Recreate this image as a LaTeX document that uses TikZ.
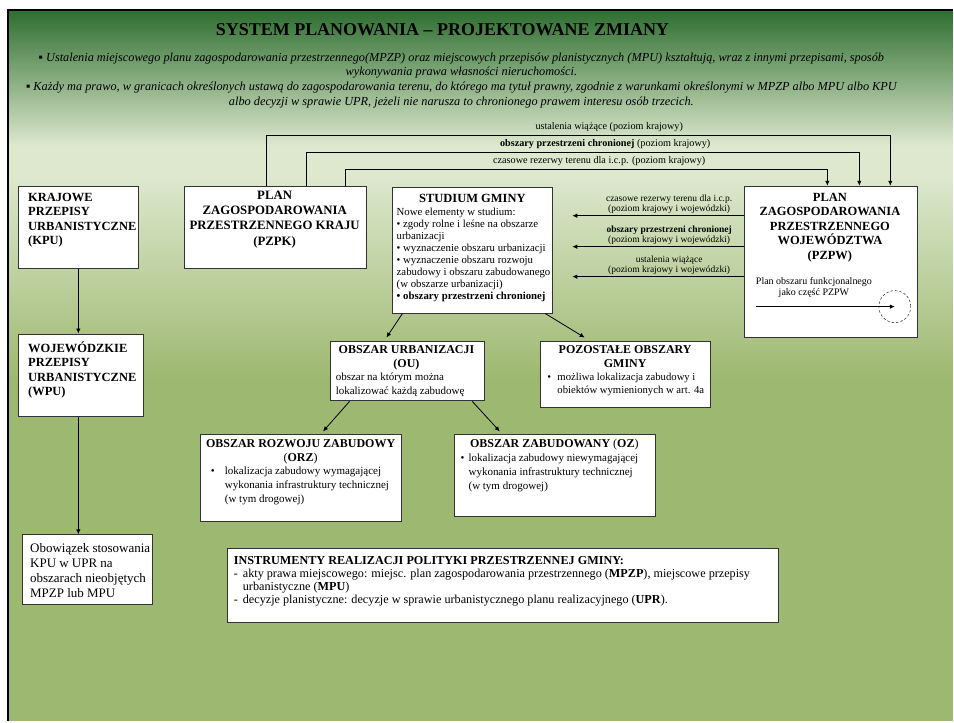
\documentclass[tikz,border=0pt]{standalone}
\usepackage{fontspec}
\setmainfont{Liberation Serif}
\usetikzlibrary{arrows.meta,calc,positioning}
\definecolor{greentop}{RGB}{46,110,48}
\definecolor{greenlight}{RGB}{221,232,206}
\definecolor{greenbase}{RGB}{157,184,112}

\begin{document}
\begin{tikzpicture}
  [x=1pt,y=-1pt,
   box/.style={draw=black!80,fill=white,line width=0.9pt,inner sep=0pt,anchor=north west},
   head/.style={font=\fontsize{12.5}{14.5}\selectfont\bfseries,align=center,inner sep=0pt,anchor=north},
   body/.style={font=\fontsize{11}{13}\selectfont,align=left,inner sep=0pt,anchor=north west},
   note/.style={font=\fontsize{10.2}{11}\selectfont,align=center,inner sep=0pt},
   link/.style={line width=0.8pt,-{Latex[length=5pt,width=4.5pt]}}]
  % background
  \fill[white] (0,0) rectangle (954,722);
  \shade[top color=greentop,bottom color=greenlight] (8,10) rectangle (954,145.5);
  \fill[greenlight] (8,145) rectangle (954,176.5);
  \shade[top color=greenlight,bottom color=greenbase] (8,176) rectangle (954,380.5);
  \fill[greenbase] (8,380) rectangle (954,722);
  \draw[line width=2.5pt] (8,722) -- (8,10) -- (954,10);
  % header
  \node[font=\fontsize{18}{20}\selectfont\bfseries] (title) at (443,30) {SYSTEM PLANOWANIA – PROJEKTOWANE ZMIANY};
  \node[font=\fontsize{12.3}{14.7}\selectfont\itshape,align=center] (intro) at (462,80.5)
    {▪ Ustalenia miejscowego planu zagospodarowania przestrzennego(MPZP) oraz miejscowych przepisów planistycznych (MPU) kształtują, wraz z innymi przepisami, sposób\\
     wykonywania prawa własności nieruchomości.\\
     ▪ Każdy ma prawo, w granicach określonych ustawą do zagospodarowania terenu, do którego ma tytuł prawny, zgodnie z warunkami określonymi w MPZP albo MPU albo KPU\\
     albo decyzji w sprawie UPR, jeżeli nie narusza to chronionego prawem interesu osób trzecich.};
  % boxes
  \node[box,minimum width=120,minimum height=82] (kpu) at (18,186) {};
  \node[box,minimum width=125,minimum height=83] (wpu) at (18,334) {};
  \node[box,minimum width=130,minimum height=70] (duty) at (22,535) {};
  \node[box,minimum width=182,minimum height=82] (pzpk) at (184,186) {};
  \node[box,minimum width=160,minimum height=126] (studium) at (393,187) {};
  \node[box,minimum width=173,minimum height=151] (pzpw) at (745,186) {};
  \node[box,minimum width=155,minimum height=60] (ou) at (330,341) {};
  \node[box,minimum width=170,minimum height=67] (rest) at (541,341) {};
  \node[box,minimum width=202,minimum height=87] (orz) at (200,435) {};
  \node[box,minimum width=201,minimum height=82] (oz) at (455,435) {};
  \node[box,minimum width=552,minimum height=74] (tools) at (227,549) {};
  % box texts
  \node[head,align=left,anchor=north west] (kputext) at (28,193) {KRAJOWE\\PRZEPISY\\URBANISTYCZNE\\(KPU)};
  \node[head,align=left,anchor=north west] (wputext) at (28,342) {WOJEWÓDZKIE\\PRZEPISY\\URBANISTYCZNE\\(WPU)};
  \node[body,font=\fontsize{13}{15}\selectfont] (dutytext) at (30,544) {Obowiązek stosowania\\KPU w UPR na\\obszarach nieobjętych\\MPZP lub MPU};
  \node[head,font=\fontsize{12.8}{15.3}\selectfont\bfseries] (pzpktext) at (275,191) {PLAN\\ZAGOSPODAROWANIA\\PRZESTRZENNEGO KRAJU\\(PZPK)};
  \node[head] (studtitle) at (473,194) {STUDIUM GMINY};
  \node[body,font=\fontsize{10.8}{12}\selectfont] (studtext) at (397,208)
    {Nowe elementy w studium:\\
     • zgody rolne i leśne na obszarze\\
     urbanizacji\\
     • wyznaczenie obszaru urbanizacji\\
     • wyznaczenie obszaru rozwoju\\
     zabudowy i obszaru zabudowanego\\
     (w obszarze urbanizacji)\\
     \textbf{• obszary przestrzeni chronionej}};
  \node[head] (pzpwtext) at (831,193) {PLAN\\ZAGOSPODAROWANIA\\PRZESTRZENNEGO\\WOJEWÓDZTWA\\(PZPW)};
  \node[note,font=\fontsize{10}{11}\selectfont,anchor=north] (pzpwnote) at (815,278) {Plan obszaru funkcjonalnego\\jako część PZPW};
  \node[head,font=\fontsize{12}{14}\selectfont\bfseries] (outitle) at (407,346) {OBSZAR URBANIZACJI\\(OU)};
  \node[body,font=\fontsize{11}{14}\selectfont] (outext) at (336,373) {obszar na którym można\\lokalizować każdą zabudowę};
  \node[head,font=\fontsize{12}{14}\selectfont\bfseries] (resttitle) at (626,346) {POZOSTAŁE OBSZARY\\GMINY};
  \node[body,font=\fontsize{10.7}{13}\selectfont] (resttext) at (548,373) {\makebox[10pt][l]{•}możliwa lokalizacja zabudowy i\\\hspace*{10pt}obiektów wymienionych w art. 4a};
  \node[head,font=\fontsize{12}{13.5}\selectfont\bfseries] (orztitle) at (301,440) {OBSZAR ROZWOJU ZABUDOWY\\\textmd{(}ORZ\textmd{)}};
  \node[body,font=\fontsize{11}{14}\selectfont] (orztext) at (211,467) {\makebox[14pt][l]{•}lokalizacja zabudowy wymagającej\\\hspace*{14pt}wykonania infrastruktury technicznej\\\hspace*{14pt}(w tym drogowej)};
  \node[head,font=\fontsize{12}{13.5}\selectfont\bfseries] (oztitle) at (555,440) {OBSZAR ZABUDOWANY \textmd{(}OZ\textmd{)}};
  \node[body,font=\fontsize{11}{14}\selectfont] (oztext) at (461,454) {\makebox[8pt][l]{•}lokalizacja zabudowy niewymagającej\\\hspace*{8pt}wykonania infrastruktury technicznej\\\hspace*{8pt}(w tym drogowej)};
  \node[body,font=\fontsize{12.2}{12.9}\selectfont] (toolstext) at (234,557)
    {\textbf{INSTRUMENTY REALIZACJI POLITYKI PRZESTRZENNEJ GMINY:}\\
     \makebox[9pt][l]{-}akty prawa miejscowego: miejsc. plan zagospodarowania przestrzennego (\textbf{MPZP}), miejscowe przepisy\\
     \hspace*{9pt}urbanistyczne (\textbf{MPU})\\
     \makebox[9pt][l]{-}decyzje planistyczne: decyzje w sprawie urbanistycznego planu realizacyjnego (\textbf{UPR}).};
  % national level links into the voivodeship plan
  \foreach \k/\w/\dy in {-9/59.5/-50,31/28.5/-33,70/-3.5/-16}
    \draw[link] ([xshift=\k pt]pzpk.north) -- ++(0,\dy) -| ([xshift=\w pt]pzpw.north);
  \node[note] (lab1) at (610,127) {ustalenia wiążące (poziom krajowy)};
  \node[note] (lab2) at (606,144) {\textbf{obszary przestrzeni chronionej} (poziom krajowy)};
  \node[note] (lab3) at (600,161) {czasowe rezerwy terenu dla i.c.p. (poziom krajowy)};
  % voivodeship plan into the studium
  \foreach \i/\y in {1/216,2/247,3/277}{
    \coordinate (in\i) at (573,\y);
    \draw[link] (pzpw.west |- in\i) -- (in\i);
  }
  \node[note,font=\fontsize{9.5}{10}\selectfont,anchor=south] (side1) at (670,214) {czasowe rezerwy terenu dla i.c.p.\\(poziom krajowy i wojewódzki)};
  \node[note,font=\fontsize{9.5}{10}\selectfont,anchor=south] (side2) at (670,245) {\textbf{obszary przestrzeni chronionej}\\(poziom krajowy i wojewódzki)};
  \node[note,font=\fontsize{9.5}{10}\selectfont,anchor=south] (side3) at (670,275) {ustalenia wiążące\\(poziom krajowy i wojewódzki)};
  % functional area
  \coordinate (fa) at (757,307);
  \node[draw,dashed,circle,minimum size=32,inner sep=0pt,dash pattern=on 2.5pt off 2pt] (focus) at (896,307) {};
  \draw[link] (fa) -- (focus.center);
  % regulations chain
  \draw[link] (kpu.south) -- (kpu.south |- wpu.north);
  \draw[link] (kpu.south |- wpu.south) -- (kpu.south |- duty.north);
  % studium split
  \draw[link] ([xshift=10pt]studium.south west) -- ([xshift=-21pt,yshift=3pt]ou.north);
  \draw[link] ([xshift=-8pt]studium.south east) -- ([xshift=-41pt,yshift=3pt]rest.north);
  \draw[link] ([xshift=20pt]ou.south west) -- ([xshift=22pt,yshift=3pt]orz.north);
  \draw[link] ([xshift=-13pt]ou.south east) -- ([xshift=-55.5pt,yshift=3pt]oz.north);
\end{tikzpicture}
\end{document}
